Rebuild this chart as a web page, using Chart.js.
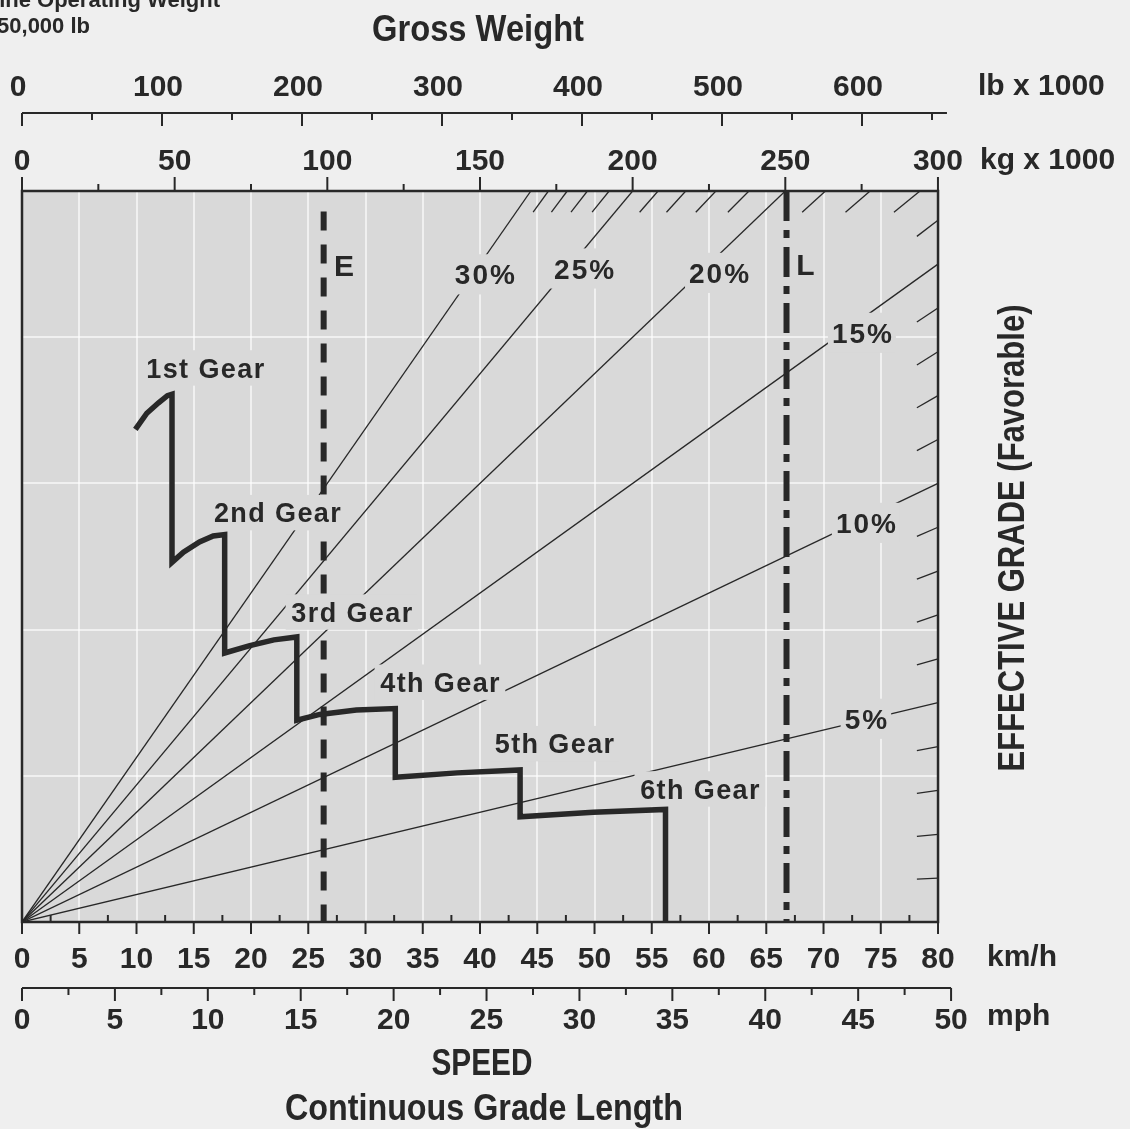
<!DOCTYPE html>
<html>
<head>
<meta charset="utf-8">
<title>Retarding performance</title>
<script src="https://cdn.jsdelivr.net/npm/chart.js@4.4.1/dist/chart.umd.min.js"></script>
<style>
  html, body { margin: 0; padding: 0; background: #efefef; }
  #wrap { width: 1130px; height: 1129px; position: relative; }
</style>
</head>
<body>
<div id="wrap"><canvas id="chart"></canvas></div>
<script>
// Gear envelope: speed (km/h) against retarding force (chart units, 0-50)
const gearSpeed = [9.9, 10.9, 11.9, 12.7, 13.1, 13.1, 14.1, 15.5, 16.7, 17.7, 17.7, 19.9, 22.0, 24.0,
                   24.0, 26.0, 29.2, 32.6, 32.6, 38.0, 43.5, 43.5, 49.9, 56.2, 56.2];
const gearForce = [33.7, 34.8, 35.5, 36.0, 36.1, 24.6, 25.3, 26.0, 26.4, 26.5, 18.4, 18.9, 19.3, 19.5,
                   13.8, 14.2, 14.5, 14.6, 9.9, 10.2, 10.4, 7.2, 7.5, 7.7, 0];
const gearNames = ['1st Gear', '2nd Gear', '3rd Gear', '4th Gear', '5th Gear', '6th Gear'];
const gearLabelSpeed = [16.0, 22.3, 28.8, 36.5, 46.5, 59.2];
const gearLabelForce = [37.9, 28.0, 21.2, 16.4, 12.2, 9.1];

// Effective grade lines (%), drawn from the origin against gross weight
const gradeLines = [5, 10, 15, 20, 25, 30];
const gradeTicks = [1, 2, 3, 4, 6, 7, 8, 9, 11, 12, 13, 14, 16, 17, 18, 19, 21, 22, 23, 24, 26, 27, 28, 29];
const gradeLabelWeight = [276.4, 276.4, 275.1, 228.3, 184.1, 151.6];
const gradeLabelForce = [13.9, 27.3, 40.3, 44.4, 44.7, 44.3];

// Empty (E) and loaded (L) gross weights, kg x 1000
const emptyWeight = 98.8;
const loadedWeight = 250.4;

const maxWeight = 300;  // kg x 1000 at the right edge of the grid
const maxSpeed = 80;    // km/h at the right edge of the grid
const maxForce = 50;

// Colours and fonts
const PAGE = '#efefef';
const PLOT = '#d9d9d9';
const INK = '#282828';
const GRID = 'rgba(255,255,255,0.6)';
const FONT = '"Liberation Sans", Arial, Helvetica, sans-serif';

function rayEnd(g) {
    const f = maxWeight * g / 100;
    if (f <= maxForce) return { x: maxWeight, y: f };
    return { x: maxForce * 100 / g, y: maxForce };
}

function line(xAxisID, data, extra) {
    return Object.assign({
        xAxisID: xAxisID, yAxisID: 'f', data: data, showLine: true,
        pointRadius: 0, borderColor: INK, borderWidth: 1.3, fill: false, tension: 0, order: 1
    }, extra || {});
}

const datasets = [];
gradeLines.forEach(g => datasets.push(line('kg', [{ x: 0, y: 0 }, rayEnd(g)])));
gradeTicks.forEach(g => {
    const e = rayEnd(g);
    const k = e.y === maxForce ? 0.971 : 0.977;
    datasets.push(line('kg', [{ x: e.x * k, y: e.y * k }, e]));
});
datasets.push(line('kg', [{ x: emptyWeight, y: 48.6 }, { x: emptyWeight, y: 0 }],
    { borderWidth: 6, borderDash: [19, 14] }));
datasets.push(line('kg', [{ x: loadedWeight, y: maxForce }, { x: loadedWeight, y: 0 }],
    { borderWidth: 6, borderDash: [30, 9, 8, 9] }));
const gearIndex = datasets.length;
datasets.push(line('kmh', gearSpeed.map((v, i) => ({ x: v, y: gearForce[i] })),
    { borderWidth: 5.5, borderJoinStyle: 'miter', order: 0 }));

// Grid colour: white inside the plot only
function gridAt(c, step, end) {
    const v = c.tick ? c.tick.value : null;
    return (v > 0 && v < end && v % step === 0) ? GRID : 'rgba(0,0,0,0)';
}

const tickFont = { family: FONT, size: 30, weight: 'bold' };

function xAxis(position, weight, max, step, major, padding, height, labelOffset, extra) {
    return Object.assign({
        type: 'linear', position: position, weight: weight, min: 0, max: max,
        ticks: {
            stepSize: step, includeBounds: false, autoSkip: false, maxRotation: 0,
            padding: padding, labelOffset: labelOffset, font: tickFont, color: INK,
            callback: v => (v % major === 0 ? v : '')
        },
        grid: { display: false, drawTicks: false, tickLength: 0 },
        border: { display: false },
        afterFit: s => {
            s.height = height;
            s.paddingLeft = 0;
            s.paddingRight = 0;
        }
    }, extra || {});
}

function drawTicks(ctx, scale, y0, major, majLen, minLen) {
    scale.ticks.forEach(t => {
        const x = scale.getPixelForValue(t.value);
        const len = (t.value % major === 0) ? majLen : minLen;
        if (!len) return;
        ctx.beginPath();
        ctx.moveTo(x, y0);
        ctx.lineTo(x, y0 + len);
        ctx.stroke();
    });
}

function fitText(ctx, str, x, y, size, width, align) {
    ctx.save();
    ctx.font = `bold ${size}px ${FONT}`;
    const k = width / ctx.measureText(str).width;
    ctx.translate(x, y);
    ctx.scale(k, 1);
    ctx.textAlign = align;
    ctx.textBaseline = 'alphabetic';
    ctx.fillText(str, 0, 0);
    ctx.restore();
}

function boxLabel(ctx, str, x, y, size, spacing, padX, padY) {
    ctx.font = `bold ${size}px ${FONT}`;
    ctx.letterSpacing = spacing + 'px';
    const w = ctx.measureText(str).width;
    const h = size * 0.72;
    if (padX !== null) {
        ctx.fillStyle = PLOT;
        ctx.fillRect(x - w / 2 - padX, y - h / 2 - padY, w + 2 * padX, h + 2 * padY);
    }
    ctx.fillStyle = INK;
    ctx.textAlign = 'center';
    ctx.textBaseline = 'alphabetic';
    ctx.fillText(str, x + spacing / 2, y + h / 2);
    ctx.letterSpacing = '0px';
}

const decor = {
    id: 'decor',
    beforeDraw(chart) {
        const { ctx, scales: { kmh, f } } = chart;
        const l = kmh.getPixelForValue(0), r = kmh.getPixelForValue(maxSpeed);
        const t = f.getPixelForValue(maxForce), b = f.getPixelForValue(0);
        ctx.save();
        ctx.fillStyle = PLOT;
        ctx.fillRect(l, t, r - l, b - t);
        ctx.restore();
    },
    beforeDatasetsDraw(chart) {
        const { ctx, chartArea, scales: { kmh, f } } = chart;
        const l = kmh.getPixelForValue(0), r = kmh.getPixelForValue(maxSpeed);
        const t = f.getPixelForValue(maxForce), b = f.getPixelForValue(0);
        ctx.save();
        // hide grid lines that run past the plot on the right
        ctx.fillStyle = PAGE;
        ctx.fillRect(r + 1, chartArea.top - 2, chartArea.right - r + 2, chartArea.bottom - chartArea.top + 4);
        ctx.strokeStyle = INK;
        ctx.lineWidth = 2.5;
        ctx.strokeRect(l, t, r - l, b - t);
        ctx.restore();
    },
    beforeDatasetDraw(chart, args) {
        if (args.index !== gearIndex) return;
        const { ctx, scales: { kmh, kg, f } } = chart;
        ctx.save();
        gradeLines.forEach((g, i) => {
            boxLabel(ctx, g + '%', kg.getPixelForValue(gradeLabelWeight[i]),
                f.getPixelForValue(gradeLabelForce[i]), 28, 2, 3, 10);
        });
        gearNames.forEach((s, i) => {
            boxLabel(ctx, s, kmh.getPixelForValue(gearLabelSpeed[i]),
                f.getPixelForValue(gearLabelForce[i]), 27, 1.4, 5, 8);
        });
        boxLabel(ctx, 'E', kg.getPixelForValue(105.5), f.getPixelForValue(44.9), 30, 0, null, 0);
        boxLabel(ctx, 'L', kg.getPixelForValue(256.6), f.getPixelForValue(45.0), 30, 0, null, 0);
        ctx.restore();
    },
    afterDraw(chart) {
        const { ctx, chartArea, scales: { kmh, mph, kg, lb } } = chart;
        ctx.save();
        ctx.strokeStyle = INK;
        ctx.fillStyle = INK;
        ctx.lineWidth = 2;

        // lb axis: line with ticks hanging down
        ctx.beginPath();
        ctx.moveTo(lb.getPixelForValue(0), lb.bottom);
        ctx.lineTo(lb.getPixelForValue(660.7), lb.bottom);
        ctx.stroke();
        drawTicks(ctx, lb, lb.bottom, 100, 13, 7);

        // kg axis: ticks standing on the top of the plot
        drawTicks(ctx, kg, chartArea.top, 50, -14, -7);

        // km/h: ticks below, small ticks inside
        drawTicks(ctx, kmh, chartArea.bottom, 5, 12, -7);

        // mph axis
        ctx.beginPath();
        ctx.moveTo(mph.getPixelForValue(0), mph.top);
        ctx.lineTo(mph.getPixelForValue(50), mph.top);
        ctx.stroke();
        drawTicks(ctx, mph, mph.top, 5, 13, 7);

        // unit labels
        ctx.font = `bold 30px ${FONT}`;
        ctx.textAlign = 'left';
        ctx.textBaseline = 'middle';
        ctx.fillText('lb x 1000', 978, 87);
        ctx.fillText('kg x 1000', 980, 161);
        ctx.fillText('km/h', 987, 958);
        ctx.fillText('mph', 987, 1017);

        // titles
        fitText(ctx, 'Gross Weight', 478, 41, 36, 212, 'center');
        fitText(ctx, 'SPEED', 482, 1075, 36, 101, 'center');
        fitText(ctx, 'Continuous Grade Length', 484, 1120, 36, 398, 'center');
        ctx.save();
        ctx.translate(1024, 538);
        ctx.rotate(-Math.PI / 2);
        fitText(ctx, 'EFFECTIVE GRADE (Favorable)', 0, 0, 36, 467, 'center');
        ctx.restore();

        // note cut off at the top left corner
        ctx.font = `bold 22px ${FONT}`;
        ctx.textAlign = 'right';
        ctx.textBaseline = 'alphabetic';
        ctx.fillText('Gross Machine Operating Weight', 220, 7);
        ctx.fillText('550,000 lb', 90, 33);
        ctx.restore();
    }
};

new Chart(document.getElementById('chart'), {
    type: 'scatter',
    data: { datasets: datasets },
    options: {
        responsive: true,
        maintainAspectRatio: false,
        animation: false,
        events: [],
        layout: { padding: { left: 22, right: 178, top: 0, bottom: 89 } },
        plugins: { legend: { display: false }, tooltip: { enabled: false } },
        scales: {
            kmh: xAxis('bottom', 0, 81.22, 2.5, 5, 20, 66, 0, {
                grid: { display: true, drawTicks: false, tickLength: 0, lineWidth: 2, color: c => gridAt(c, 5, maxSpeed) }
            }),
            mph: xAxis('bottom', 1, 50.05, 2.5, 5, 15, 52, 0),
            kg: xAxis('top', 0, 304.6, 25, 50, 11, 78, 0),
            lb: xAxis('top', 1, 664.3, 50, 100, 7, 113, -4),
            f: {
                type: 'linear', position: 'left', min: 0, max: maxForce,
                ticks: { display: false, stepSize: 10 },
                grid: { drawTicks: false, tickLength: 0, lineWidth: 2, color: c => gridAt(c, 10, maxForce) },
                border: { display: false },
                afterFit: s => { s.width = 0; }
            }
        }
    },
    plugins: [decor]
});
</script>
</body>
</html>
